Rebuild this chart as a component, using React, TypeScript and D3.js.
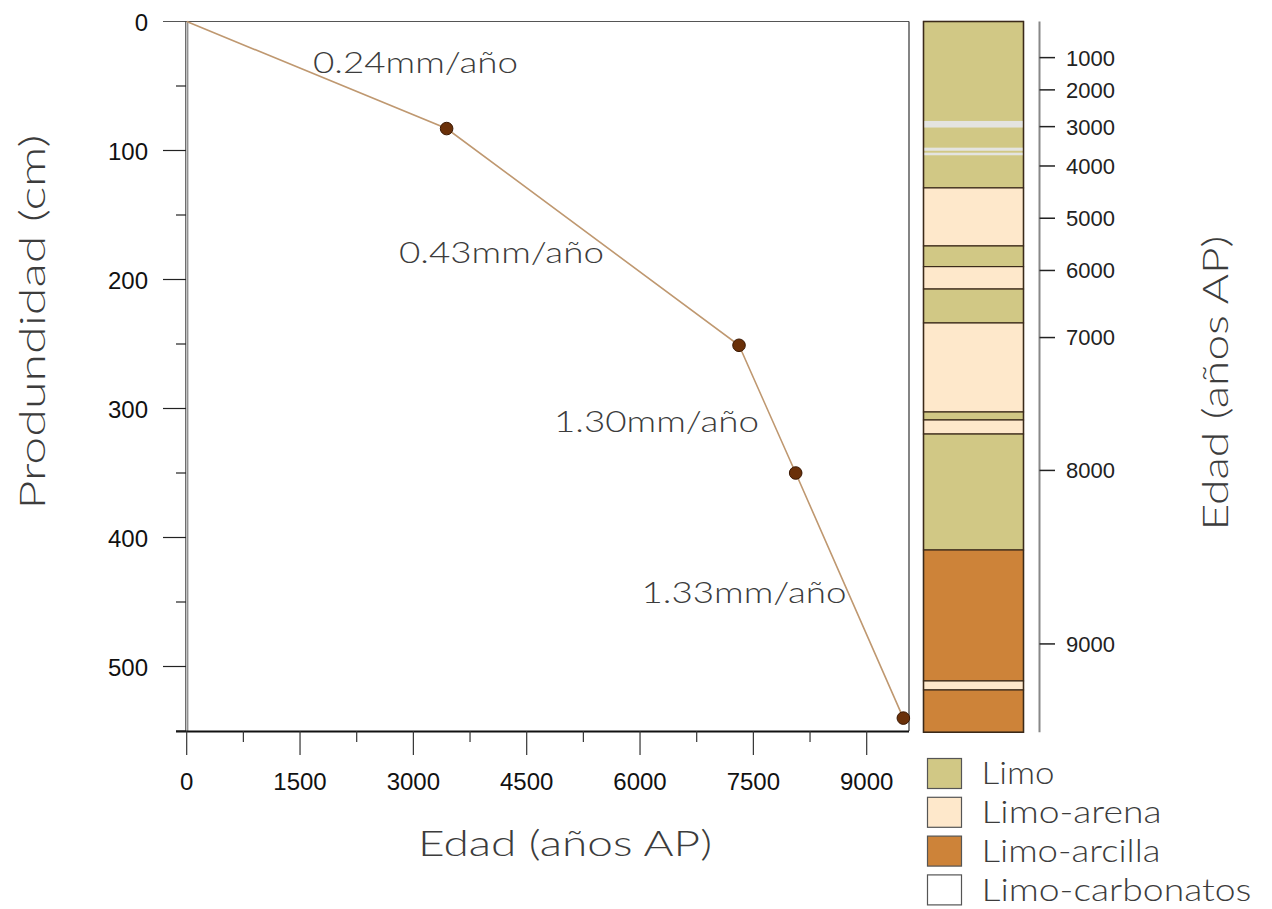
import React from "react";
import * as d3 from "d3";

// Age–depth model control points (years BP, depth in cm)
const ages = [0, 3440, 7310, 8060, 9485];
const depths = [0, 83, 251, 350, 540];

// Accumulation rates for each segment, placed along the curve
const rateLabels = ["0.24mm/año", "0.43mm/año", "1.30mm/año", "1.33mm/año"];
const rateLabelAges = [3028, 4166, 6218, 7376];
const rateLabelDepths = [32, 179, 310, 443];

// Axis ticks
const xTicks = [0, 1500, 3000, 4500, 6000, 7500, 9000];
const xMinorTicks = [750, 2250, 3750, 5250, 6750, 8250];
const yTicks = [0, 100, 200, 300, 400, 500];
const yMinorTicks = [50, 150, 250, 350, 450, 550];

// Age scale beside the column: age labels and the depth each sits at
const ageTickLabels = ["1000", "2000", "3000", "4000", "5000", "6000", "7000", "8000", "9000"];
const ageTickDepths = [28, 53, 81.5, 112, 152.5, 193, 245, 348, 482.5];

// Lithological column: type, top and bottom depth (cm)
const layerTypes = ["limo", "arena", "limo", "arena", "limo", "arena", "limo", "arena", "limo", "arcilla", "arena", "arcilla"];
const layerTops = [0, 129, 174, 190, 207.4, 233.7, 302.7, 308.9, 319.8, 409.7, 511.2, 518.2];
const layerBottoms = [129, 174, 190, 207.4, 233.7, 302.7, 308.9, 319.8, 409.7, 511.2, 518.2, 551];

// Thin carbonate bands inside the upper silt
const bandTops = [77.1, 97.8, 101.7];
const bandBottoms = [82.2, 100.2, 103.7];

// Legend
const legendKeys = ["limo", "arena", "arcilla", "carbonatos"];
const legendLabels = ["Limo", "Limo-arena", "Limo-arcilla", "Limo-carbonatos"];
const legendLabelWidths = [73, 180, 179, 270];

const fills: Record<string, string> = {
  limo: "#d1c885",
  arena: "#fee8cb",
  arcilla: "#cd8339",
  carbonatos: "#ffffff",
};

const W = 1272;
const H = 909;
const titleFont = "Lato, 'Open Sans', sans-serif";
const tickFont = "'Liberation Sans', Arial, sans-serif";
const textColor = "#3c3c3c";

export default function App() {
  const x = d3.scaleLinear().domain([0, 9000]).range([186.7, 866.7]);
  const y = d3.scaleLinear().domain([0, 500]).range([21.5, 666.5]);
  const xMax = x.invert(909);
  const yMax = 550;

  const line = d3
    .line<number>()
    .x((_, i) => x(ages[i]))
    .y((d) => y(d));

  const colLeft = 923.5;
  const colRight = 1023.5;
  const ageAxisX = 1039.5;

  return (
    <svg width={W} height={H} style={{ position: "absolute", left: 0, top: 0, background: "#fff" }}>
      {/* plot frame */}
      <line x1={163} x2={x(xMax)} y1={y(0)} y2={y(0)} stroke="#555" strokeWidth={1.2} />
      <line x1={x(xMax)} x2={x(xMax)} y1={y(0)} y2={y(yMax)} stroke="#333" strokeWidth={1.2} />
      <line x1={185.8} x2={185.8} y1={y(0)} y2={y(yMax)} stroke="#333" strokeWidth={1} />
      <line x1={187.8} x2={187.8} y1={y(0)} y2={y(yMax)} stroke="#666" strokeWidth={1} />
      <line x1={176} x2={x(xMax)} y1={y(yMax) + 0.5} y2={y(yMax) + 0.5} stroke="#111" strokeWidth={2} />

      {/* depth axis */}
      {yTicks.map((t) => (
        <g key={"yt" + t}>
          {t > 0 && <line x1={163} x2={186} y1={y(t)} y2={y(t)} stroke="#222" strokeWidth={1.2} />}
          <text x={148} y={y(t) + 1} dy="0.36em" textAnchor="end" fontFamily={tickFont} fontSize={24} fill="#111">
            {t}
          </text>
        </g>
      ))}
      {yMinorTicks.map((t) => (
        <line key={"ym" + t} x1={176} x2={186} y1={y(t)} y2={y(t)} stroke="#222" strokeWidth={1.2} />
      ))}

      {/* age axis */}
      {xTicks.map((t) => (
        <g key={"xt" + t}>
          <line x1={x(t)} x2={x(t)} y1={y(yMax)} y2={755} stroke="#333" strokeWidth={1.2} />
          <text x={x(t)} y={790} textAnchor="middle" fontFamily={tickFont} fontSize={24} fill="#111">
            {t}
          </text>
        </g>
      ))}
      {xMinorTicks.map((t) => (
        <line key={"xm" + t} x1={x(t)} x2={x(t)} y1={y(yMax)} y2={742} stroke="#333" strokeWidth={1.2} />
      ))}

      {/* age-depth curve */}
      <path d={line(depths) ?? ""} fill="none" stroke="#bf9870" strokeWidth={1.6} />
      {depths.slice(1).map((d, i) => (
        <circle key={"p" + i} cx={x(ages[i + 1])} cy={y(d)} r={6.3} fill="#6a3009" stroke="#3b1904" strokeWidth={1} />
      ))}

      {rateLabels.map((s, i) => (
        <text
          key={"r" + i}
          x={x(rateLabelAges[i])}
          y={y(rateLabelDepths[i])}
          dy="0.35em"
          textAnchor="middle"
          fontFamily={titleFont}
          fontSize={30}
          fontWeight={300}
          textLength={205}
          lengthAdjust="spacingAndGlyphs"
          fill={textColor}
        >
          {s}
        </text>
      ))}

      {/* axis titles */}
      <text
        x={565}
        y={843}
        dy="0.35em"
        textAnchor="middle"
        fontFamily={titleFont}
        fontSize={36}
        fontWeight={300}
        textLength={294}
        lengthAdjust="spacingAndGlyphs"
        fill={textColor}
      >
        Edad (años AP)
      </text>
      <text
        transform={`translate(32,322) rotate(-90)`}
        dy="0.35em"
        textAnchor="middle"
        fontFamily={titleFont}
        fontSize={36}
        fontWeight={300}
        textLength={375}
        lengthAdjust="spacingAndGlyphs"
        fill={textColor}
      >
        Produndidad (cm)
      </text>

      {/* lithological column */}
      {layerTypes.map((t, i) => (
        <rect
          key={"l" + i}
          x={colLeft}
          y={y(layerTops[i])}
          width={colRight - colLeft}
          height={y(layerBottoms[i]) - y(layerTops[i])}
          fill={fills[t]}
          stroke="#3b2a1a"
          strokeWidth={1.2}
        />
      ))}
      {bandTops.map((b, i) => (
        <rect
          key={"b" + i}
          x={colLeft + 0.6}
          y={y(b)}
          width={colRight - colLeft - 1.2}
          height={y(bandBottoms[i]) - y(b)}
          fill="#e4e4e0"
        />
      ))}
      <rect
        x={colLeft}
        y={y(0)}
        width={colRight - colLeft}
        height={y(551) - y(0)}
        fill="none"
        stroke="#3b2a1a"
        strokeWidth={1.4}
      />

      {/* age scale beside the column */}
      <line x1={ageAxisX} x2={ageAxisX} y1={y(0)} y2={y(551)} stroke="#888" strokeWidth={2} />
      {ageTickLabels.map((s, i) => (
        <g key={"a" + i}>
          <line x1={ageAxisX} x2={1055} y1={y(ageTickDepths[i])} y2={y(ageTickDepths[i])} stroke="#222" strokeWidth={1.5} />
          <text
            x={1066}
            y={y(ageTickDepths[i])}
            dy="0.36em"
            fontFamily={tickFont}
            fontSize={22}
            fill="#222"
          >
            {s}
          </text>
        </g>
      ))}
      <text
        transform={`translate(1215,383) rotate(-90)`}
        dy="0.35em"
        textAnchor="middle"
        fontFamily={titleFont}
        fontSize={36}
        fontWeight={300}
        textLength={295}
        lengthAdjust="spacingAndGlyphs"
        fill={textColor}
      >
        Edad (años AP)
      </text>

      {/* legend */}
      {legendKeys.map((k, i) => (
        <g key={"lg" + k} transform={`translate(927.5,${758.5 + i * 38.8})`}>
          <rect width={34} height={30} fill={fills[k]} stroke="#555" strokeWidth={1.2} />
          <text
            x={54}
            y={15}
            dy="0.35em"
            fontFamily={titleFont}
            fontSize={31}
            fontWeight={300}
            textLength={legendLabelWidths[i]}
            lengthAdjust="spacingAndGlyphs"
            fill={textColor}
          >
            {legendLabels[i]}
          </text>
        </g>
      ))}
    </svg>
  );
}
